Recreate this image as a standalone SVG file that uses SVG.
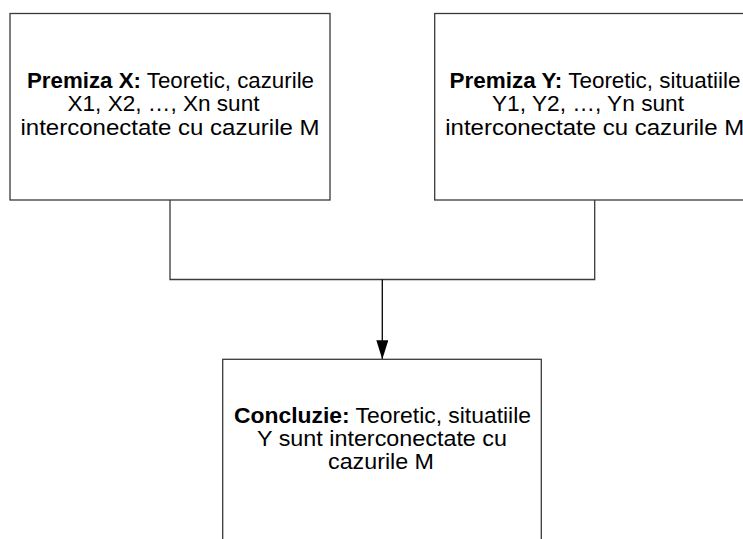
<svg xmlns="http://www.w3.org/2000/svg" width="743" height="539" viewBox="0 0 743 539">
  <style>
    .box { fill: #ffffff; stroke: #3a3a3a; stroke-width: 1.3; }
    .txt { font-family: "Liberation Sans", Arial, sans-serif; font-size: 22px; fill: #000000; text-anchor: middle; }
    .b { font-weight: bold; }
    .conn { fill: none; stroke: #3a3a3a; stroke-width: 1.3; }
  </style>
  <defs>
    <marker id="arrow" markerUnits="userSpaceOnUse" markerWidth="19" markerHeight="12" refX="19" refY="6" orient="auto" viewBox="0 0 19 12">
      <path d="M0,0 L19,6 L0,12 Z" fill="#000000"/>
    </marker>
  </defs>
  <rect width="743" height="539" fill="#ffffff"/>

  <g id="connectors">
    <polyline class="conn" points="170,200 170,279.5 594.7,279.5 594.7,200"/>
    <line x1="382.3" y1="279.5" x2="382.3" y2="359.3" stroke="#000000" stroke-width="1.3" marker-end="url(#arrow)"/>
  </g>

  <g id="premiza-x">
    <rect class="box" x="10" y="13.5" width="320" height="186.5"/>
    <text class="txt" x="170.5" y="87.5" textLength="287" lengthAdjust="spacingAndGlyphs"><tspan class="b">Premiza X:</tspan> Teoretic, cazurile</text>
    <text class="txt" x="163.5" y="111" textLength="192" lengthAdjust="spacingAndGlyphs">X1, X2, …, Xn sunt</text>
    <text class="txt" x="170" y="134.5" textLength="299" lengthAdjust="spacingAndGlyphs">interconectate cu cazurile M</text>
  </g>

  <g id="premiza-y">
    <rect class="box" x="434.7" y="13.5" width="320" height="186.5"/>
    <text class="txt" x="595" y="87.5" textLength="291" lengthAdjust="spacingAndGlyphs"><tspan class="b">Premiza Y:</tspan> Teoretic, situatiile</text>
    <text class="txt" x="588" y="111" textLength="192" lengthAdjust="spacingAndGlyphs">Y1, Y2, …, Yn sunt</text>
    <text class="txt" x="594.7" y="134.5" textLength="299" lengthAdjust="spacingAndGlyphs">interconectate cu cazurile M</text>
  </g>

  <g id="concluzie">
    <rect class="box" x="222.7" y="359.3" width="318.6" height="190"/>
    <text class="txt" x="382.5" y="423" textLength="297" lengthAdjust="spacingAndGlyphs"><tspan class="b">Concluzie:</tspan> Teoretic, situatiile</text>
    <text class="txt" x="382" y="446" textLength="250" lengthAdjust="spacingAndGlyphs">Y sunt interconectate cu</text>
    <text class="txt" x="381" y="469" textLength="106" lengthAdjust="spacingAndGlyphs">cazurile M</text>
  </g>
</svg>
